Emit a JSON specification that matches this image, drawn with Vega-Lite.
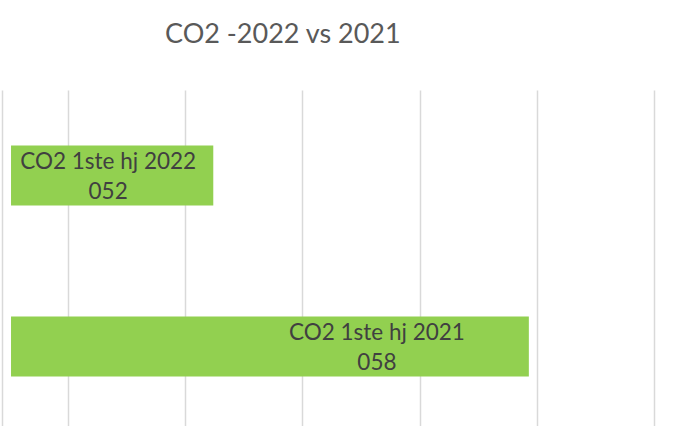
{
  "$schema": "https://vega.github.io/schema/vega-lite/v6.json",
  "autosize": "none",
  "width": 652,
  "height": 342,
  "padding": {"left": 2, "top": 90, "right": 20, "bottom": 0},
  "background": "white",
  "view": {"stroke": null},
  "title": {
    "text": "CO2 -2022 vs 2021",
    "anchor": "start",
    "dx": 163,
    "offset": 20,
    "baseline": "alphabetic",
    "font": "Lato",
    "fontSize": 27,
    "fontWeight": "normal",
    "color": "#595959"
  },
  "data": {
    "values": [
      {"serie": "CO2 1ste hj 2022", "waarde": 2.239, "label": "052"},
      {"serie": "CO2 1ste hj 2021", "waarde": 4.932, "label": "058"}
    ]
  },
  "transform": [
    {"calculate": "datum.serie + '\\n' + datum.label", "as": "tekst"},
    {"calculate": "(datum.waarde + 0.513) / 2", "as": "midden"}
  ],
  "encoding": {
    "y": {
      "field": "serie",
      "type": "nominal",
      "sort": null,
      "axis": null,
      "scale": {"paddingInner": 0.649, "paddingOuter": 0.325}
    }
  },
  "layer": [
    {
      "mark": {"type": "bar", "color": "#92D050"},
      "encoding": {
        "x": {
          "field": "waarde",
          "type": "quantitative",
          "scale": {"domain": [0.436, 6], "zero": false, "nice": false},
          "axis": {
            "values": [0.436, 1, 2, 3, 4, 5, 6],
            "labels": false,
            "ticks": false,
            "domain": false,
            "title": null,
            "grid": true,
            "gridColor": "#D9D9D9",
            "gridWidth": 1.5
          }
        },
        "x2": {"datum": 0.513}
      }
    },
    {
      "transform": [{"filter": "datum.label == '052'"}],
      "mark": {"type": "text", "font": "Lato", "fontSize": 22.5, "color": "#404040", "lineBreak": "\n", "lineHeight": 30, "align": "center", "baseline": "alphabetic", "dy": -6.5, "dx": -4},
      "encoding": {
        "x": {"field": "midden", "type": "quantitative"},
        "text": {"field": "tekst"}
      }
    },
    {
      "transform": [{"filter": "datum.label == '058'"}],
      "mark": {"type": "text", "font": "Lato", "fontSize": 22.5, "color": "#404040", "lineBreak": "\n", "lineHeight": 30, "align": "center", "baseline": "alphabetic", "dy": -6.5, "dx": 107},
      "encoding": {
        "x": {"field": "midden", "type": "quantitative"},
        "text": {"field": "tekst"}
      }
    }
  ]
}
